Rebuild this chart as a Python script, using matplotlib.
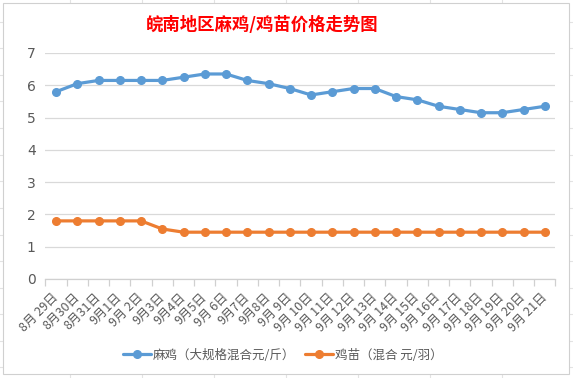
import matplotlib
matplotlib.use("Agg")
import matplotlib.pyplot as plt
from matplotlib.lines import Line2D
from matplotlib.patches import Rectangle

plt.rcParams['font.family'] = ['Noto Sans CJK SC', 'DejaVu Sans']

dates = ["8月 29日", "8月30日", "8月31日", "9月1日", "9月 2日", "9月3日", "9月4日", "9月5日",
         "9月 6日", "9月7日", "9月8日", "9月 9日", "9月 10日", "9月 11日", "9月 12日", "9月 13日",
         "9月 14日", "9月 15日", "9月 16日", "9月 17日", "9月 18日", "9月 19日", "9月 20日", "9月 21日"]
maji = [5.8, 6.05, 6.15, 6.15, 6.15, 6.15, 6.25, 6.35, 6.35, 6.15, 6.05, 5.9,
        5.7, 5.8, 5.9, 5.9, 5.65, 5.55, 5.35, 5.25, 5.15, 5.15, 5.25, 5.35]
jimiao = [1.8, 1.8, 1.8, 1.8, 1.8, 1.55, 1.45, 1.45, 1.45, 1.45, 1.45, 1.45,
          1.45, 1.45, 1.45, 1.45, 1.45, 1.45, 1.45, 1.45, 1.45, 1.45, 1.45, 1.45]
yticks = [0, 1, 2, 3, 4, 5, 6, 7]
title = "皖南地区麻鸡/鸡苗价格走势图"
label_maji = "麻鸡（大规格混合元/斤）"
label_jimiao = "鸡苗（混合 元/羽）"

W, H = 573, 378
fig = plt.figure(figsize=(W / 100, H / 100), dpi=100)
fig.patch.set_facecolor('white')

# faint spreadsheet cell lines behind chart
cell = '#e3e3e3'
for x in [70, 142, 214, 286, 358, 430, 502]:
    fig.add_artist(Line2D([x / W, x / W], [0, 1], color=cell, lw=0.8, zorder=0))
for y in [21.6, 48.2, 74.8, 101.4, 128, 154.6, 181, 208, 235, 261, 288, 314, 341, 367]:
    fig.add_artist(Line2D([0, 1], [1 - y / H, 1 - y / H], color=cell, lw=0.8, zorder=0))
# chart area
fig.add_artist(Rectangle((3 / W, 1 - 374 / H), (569 - 3) / W, (374 - 3) / H,
                         facecolor='white', edgecolor='#d0d0d0', lw=0.8, zorder=1))

ax = fig.add_axes([45.4 / W, 1 - 279 / H, 510 / W, 226 / H], zorder=2)
ax.set_facecolor('none')
x = list(range(len(dates)))
ax.plot(x, maji, color='#5B9BD5', lw=2.3, marker='o', ms=5.5, label=label_maji, solid_capstyle='round')
ax.plot(x, jimiao, color='#ED7D31', lw=2.3, marker='o', ms=5.5, label=label_jimiao, solid_capstyle='round')

ax.set_xlim(-0.5, len(dates) - 0.5)
ax.set_ylim(0, 7)
ax.set_yticks(yticks)
ax.set_yticklabels([str(v) for v in yticks], fontsize=10, color='#595959', family='DejaVu Sans')
ax.tick_params(axis='y', length=0, pad=7)
ax.grid(axis='y', color='#d9d9d9', lw=0.9)
ax.set_axisbelow(True)
for s in ['top', 'right', 'left']:
    ax.spines[s].set_visible(False)
ax.spines['bottom'].set_color('#d0d0d0')
ax.spines['bottom'].set_linewidth(0.9)

ax.set_xticks(x)
ax.set_xticklabels(dates, rotation=45, ha='right', va='center', rotation_mode='anchor',
                   fontsize=9, color='#595959')
ax.tick_params(axis='x', which='major', length=0, pad=12)
ax.set_xticks([i - 0.5 for i in range(len(dates) + 1)], minor=True)
ax.tick_params(axis='x', which='minor', length=5, color='#d0d0d0', width=0.9)

fig.text(262 / W, 1 - 25 / H, title, color='#FF0000', fontsize=12.5, fontweight='bold',
         ha='center', va='center')

leg = fig.legend(loc='center', bbox_to_anchor=(283 / W, 1 - 355 / H), ncol=2, frameon=False,
                 fontsize=9, handlelength=2.2, columnspacing=0.8, handletextpad=0.2)
for t in leg.get_texts():
    t.set_color('#595959')

fig.savefig('out.png', dpi=100, facecolor='white')
